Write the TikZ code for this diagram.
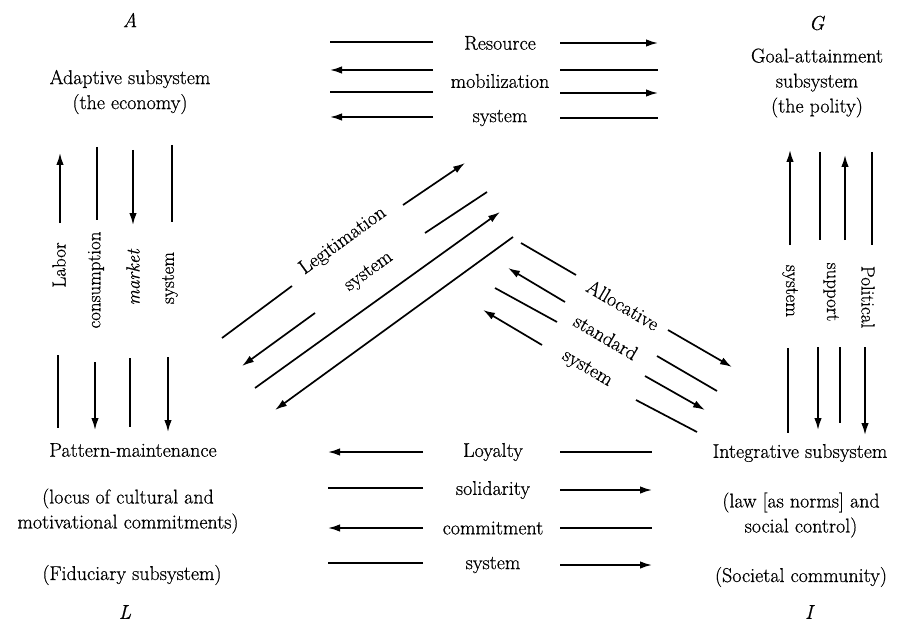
\documentclass[tikz,border=0pt]{standalone}
\usepackage{fontspec}
\setmainfont{Latin Modern Roman}[FakeBold=0.6]
\usetikzlibrary{arrows.meta}

\begin{document}
\begin{tikzpicture}[x=1pt, y=-1pt,
	every node/.style={font=\fontsize{20}{25}\selectfont, align=center, inner sep=0pt},
	flow/.style={line width=1.7pt},
	flowtip/.style={flow, -{Latex[length=12pt,width=7.5pt]}},
	sidelabel/.style={font=\fontsize{19}{23}\selectfont}]
\useasboundingbox (0,0) rectangle (900,623);

% subsystem corners
	\node (A) at (130,20) {\textit{A}};
	\node (adaptive) at (130,92) {Adaptive subsystem\\(the economy)};
	\node (G) at (817,23) {\textit{G}};
	\node (goal) at (817,83) {Goal-attainment\\subsystem\\(the polity)};
	\node (pattern) at (133,450) {Pattern-maintenance};
	\node (locus) at (128,511) {(locus of cultural and\\motivational commitments)};
	\node (fiduciary) at (132,575) {(Fiduciary subsystem)};
	\node (L) at (125,612) {\textit{L}};
	\node (integrative) at (800,453) {Integrative subsystem};
	\node (law) at (801,515) {(law [as norms] and\\social control)};
	\node (societal) at (801,577) {(Societal community)};
	\node (I) at (810,612) {\textit{I}};

% resource mobilization system
	\node (resource) at (500,43) {Resource};
	\node (mobil) at (500,81) {mobilization};
	\node (rsystem) at (500,118) {system};
	\draw[flow] (433,42) -- (330,42);
	\draw[flowtip] (433,70) -- (330,70);
	\draw[flow] (433,92) -- (330,92);
	\draw[flowtip] (433,117) -- (330,117);
	\draw[flowtip] (560,43) -- (658,43);
	\draw[flow] (560,70) -- (658,70);
	\draw[flowtip] (560,93) -- (658,93);
	\draw[flow] (560,118) -- (658,118);

% loyalty solidarity commitment system
	\node (loyalty) at (493,452) {Loyalty};
	\node (solidarity) at (493,490) {solidarity};
	\node (commitment) at (493,528) {commitment};
	\node (lsystem) at (493,565) {system};
	\draw[flowtip] (423,452) -- (328,452);
	\draw[flow] (423,488) -- (328,488);
	\draw[flowtip] (423,528) -- (328,528);
	\draw[flow] (423,563) -- (328,563);
	\draw[flow] (560,452) -- (652,452);
	\draw[flowtip] (560,490) -- (652,490);
	\draw[flow] (560,528) -- (652,528);
	\draw[flowtip] (560,565) -- (652,565);

% labor consumption market system
	\node[sidelabel, rotate=90] (labor) at (59,265) {Labor};
	\node[sidelabel, rotate=90] (consumption) at (96,280) {consumption};
	\node[sidelabel, rotate=90] (market) at (133,277) {\textit{market}};
	\node[sidelabel, rotate=90] (msystem) at (170,278) {system};
	\draw[flowtip] (60,223) -- (60,153);
	\draw[flow] (97,147) -- (97,220);
	\draw[flowtip] (133,150) -- (133,225);
	\draw[flow] (172,145) -- (172,222);
	\draw[flow] (58,355) -- (58,428);
	\draw[flowtip] (95,362) -- (95,430);
	\draw[flow] (130,358) -- (130,427);
	\draw[flowtip] (168,357) -- (168,432);

% political support system
	\node[sidelabel, rotate=-90] (psystem) at (790,291) {system};
	\node[sidelabel, rotate=-90] (support) at (831,292) {support};
	\node[sidelabel, rotate=-90] (political) at (868,297) {Political};
	\draw[flowtip] (790,245) -- (790,150);
	\draw[flow] (820,152) -- (820,240);
	\draw[flowtip] (845,240) -- (845,155);
	\draw[flow] (872,152) -- (872,245);
	\draw[flow] (788,348) -- (788,433);
	\draw[flowtip] (818,347) -- (818,430);
	\draw[flow] (840,347) -- (840,423);
	\draw[flowtip] (865,347) -- (865,435);

% legitimation system
	\node[rotate=36] (legitimation) at (343,241) {Legitimation};
	\node[rotate=36] (gsystem) at (369,272) {system};
	\draw[flow] (222,338) -- (292,286);
	\draw[flowtip] (403,205) -- (465,163);
	\draw[flow] (487,192) -- (425,233);
	\draw[flowtip] (315,313) -- (242,366);
	\draw[flowtip] (255,388) -- (500,212);
	\draw[flowtip] (513,237) -- (275,410);

% allocative standard system
	\node[rotate=-30.5] (allocative) at (623,305) {Allocative};
	\node[rotate=-30.5] (standard) at (606,337) {standard};
	\node[rotate=-30.5] (asystem) at (587,369) {system};
	\draw[flow] (521,243) -- (576,275);
	\draw[flowtip] (668,330) -- (732,367);
	\draw[flow] (717,391) -- (657,356);
	\draw[flowtip] (565,302) -- (508,268);
	\draw[flow] (495,288) -- (557,322);
	\draw[flowtip] (645,376) -- (705,410);
	\draw[flow] (697,432) -- (636,400);
	\draw[flowtip] (542,345) -- (483,310);

\end{tikzpicture}
\end{document}
